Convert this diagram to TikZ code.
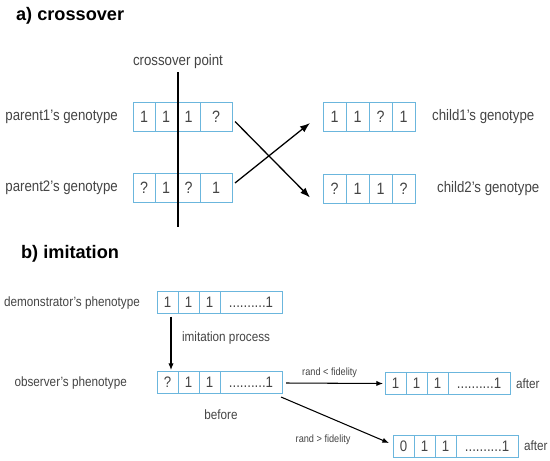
\documentclass[tikz,border=0pt]{standalone}
\usepackage{fontspec}
\setmainfont{Liberation Sans}[FakeStretch=0.87]
\newfontfamily\headfont{Liberation Sans}
\usetikzlibrary{arrows.meta, positioning, calc}
\definecolor{cellBlue}{HTML}{6BB6DD}
\definecolor{inkGrey}{HTML}{444444}

\begin{document}
\begin{tikzpicture}[x=0.3mm, y=-0.3mm,
   cell/.style={rectangle, draw=cellBlue, line width=0.8pt, outer sep=0pt,
                inner sep=0pt, text=inkGrey, font=\fontsize{14}{16}\selectfont},
   bitA/.style={cell, minimum width=6.6mm, minimum height=8.7mm},
   bitB/.style={cell, minimum width=6.3mm, minimum height=6.6mm,
                font=\fontsize{13}{15}\selectfont},
   tailB/.style={bitB, minimum width=18.6mm},
   head/.style={font=\headfont\bfseries\fontsize{15.5}{18}\selectfont,
                anchor=base west},
   lbl/.style={font=\fontsize{13}{15}\selectfont, text=inkGrey},
   lblB/.style={font=\fontsize{11.5}{13}\selectfont, text=inkGrey},
   tiny/.style={font=\fontsize{9}{11}\selectfont, text=inkGrey},
   arrA/.style={-{Latex[length=3mm, width=2.2mm]}, line width=1.1pt},
   arrB/.style={-{Latex[length=2mm, width=1.6mm]}, line width=0.9pt}]

\useasboundingbox (0,0) rectangle (550,460);

% a) crossover
\node[head] (titleA) at (12,20) {a) crossover};

\node[bitA, anchor=west] (p1-1) at (133,116.5) {1};
\node[bitA, right=0pt of p1-1] (p1-2) {1};
\node[bitA, right=0pt of p1-2, minimum width=6.9mm] (p1-3) {1};
\node[bitA, right=0pt of p1-3, minimum width=9.6mm] (p1-4) {?};

\node[bitA, anchor=west] (p2-1) at (133,188) {?};
\node[bitA, right=0pt of p2-1] (p2-2) {1};
\node[bitA, right=0pt of p2-2, minimum width=6.9mm] (p2-3) {?};
\node[bitA, right=0pt of p2-3, minimum width=9.6mm] (p2-4) {1};

\node[bitA, anchor=west, minimum width=6.9mm] (c1-1) at (323,117) {1};
\node[bitA, right=0pt of c1-1, minimum width=6.9mm] (c1-2) {1};
\node[bitA, right=0pt of c1-2, minimum width=6.9mm] (c1-3) {?};
\node[bitA, right=0pt of c1-3, minimum width=6.9mm] (c1-4) {1};

\node[bitA, anchor=west, minimum width=6.9mm] (c2-1) at (323,188.5) {?};
\node[bitA, right=0pt of c2-1, minimum width=6.9mm] (c2-2) {1};
\node[bitA, right=0pt of c2-2, minimum width=6.9mm] (c2-3) {1};
\node[bitA, right=0pt of c2-3, minimum width=6.9mm] (c2-4) {?};

\node[lbl, anchor=east] (par1) at (122,117) {parent1's genotype};
\node[lbl, anchor=east] (par2) at (122,188) {parent2's genotype};
\node[lbl, anchor=west] (chi1) at (428,117) {child1's genotype};
\node[lbl, anchor=west] (chi2) at (433,189) {child2's genotype};

% cut line between the 2nd and 3rd gene
\node[lbl, anchor=base] (cut) at (178,65) {crossover point};
\coordinate (cutEnd) at (178,227);
\draw[line width=1.1pt] (cut.south -| cutEnd) -- (cutEnd);

\draw[arrA] ($(p1-4.east)+(3,5)$) -- ($(c2-1.west)+(-13,9)$);
\draw[arrA] ($(p2-4.east)+(3,-5)$) -- ($(c1-1.west)+(-13,6)$);

% b) imitation
\node[head] (titleB) at (17,258) {b) imitation};

\node[bitB, anchor=west] (d-1) at (157,302.5) {1};
\node[bitB, right=0pt of d-1] (d-2) {1};
\node[bitB, right=0pt of d-2] (d-3) {1};
\node[tailB, right=0pt of d-3] (d-4) {..........1};

\node[bitB, anchor=west] (o-1) at (157,382) {?};
\node[bitB, right=0pt of o-1] (o-2) {1};
\node[bitB, right=0pt of o-2] (o-3) {1};
\node[tailB, right=0pt of o-3] (o-4) {..........1};

\node[bitB, anchor=west] (a1-1) at (385,383.5) {1};
\node[bitB, right=0pt of a1-1] (a1-2) {1};
\node[bitB, right=0pt of a1-2] (a1-3) {1};
\node[tailB, right=0pt of a1-3] (a1-4) {..........1};

\node[bitB, anchor=west] (a2-1) at (393,446) {0};
\node[bitB, right=0pt of a2-1] (a2-2) {1};
\node[bitB, right=0pt of a2-2] (a2-3) {1};
\node[tailB, right=0pt of a2-3] (a2-4) {..........1};

\node[lblB, anchor=east] (demo) at (144,303) {demonstrator's phenotype};
\node[lblB, anchor=east] (obs) at (131,383) {observer's phenotype};
\node[lblB] (before) at (221,415) {before};
\node[lblB, right=0.6mm of a1-4] (after1) {after};
\node[lblB, right=0.6mm of a2-4] (after2) {after};

\draw[arrB] ($(d-1.south)+(3.5,3)$) -- ($(o-1.north)+(3.5,-1)$)
   node[lblB, pos=0.4, right=2mm] (imit) {imitation process};
\draw[arrB] ($(o-4.east)+(4,1)$) -- ($(a1-1.west)+(-2,0)$)
   node[tiny, pos=0.45, above=0.4mm] (hit) {rand < fidelity};
\draw[arrB] ($(o-4.south east)+(-1,4)$) -- ($(a2-1.west)+(-4,-3)$)
   node[tiny, pos=0.39, below=4.5mm] (miss) {rand > fidelity};
\end{tikzpicture}
\end{document}
